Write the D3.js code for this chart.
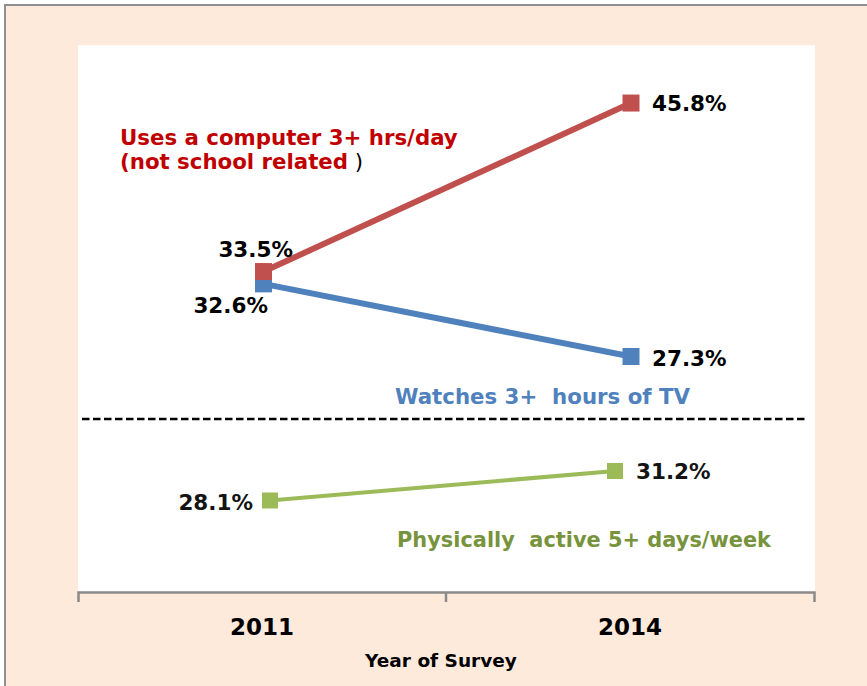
<!DOCTYPE html>
<html>
<head>
<meta charset="utf-8">
<script src="https://cdn.jsdelivr.net/npm/d3@7"></script>
<style>
    html, body { margin: 0; padding: 0; background: #ffffff; }
    svg { display: block; }
    text { font-family: "DejaVu Sans", Verdana, sans-serif; font-weight: bold; }
</style>
</head>
<body>
<div class="chart"></div>
<script>
// values
const years = ["2011", "2014"];
const computerUse = [33.5, 45.8];
const tvWatching = [32.6, 27.3];
const physicallyActive = [28.1, 31.2];

const computerLabel = ["Uses a computer 3+ hrs/day", "(not school related"];
const tvLabel = "Watches 3+  hours of TV";
const activeLabel = "Physically  active 5+ days/week";
const axisTitle = "Year of Survey";

const width = 867, height = 686;
const plot = {left: 78, right: 815, top: 45, bottom: 592};

var svg = d3.select(".chart").append("svg")
        .attr("width", width)
        .attr("height", height);

// peach frame + white plot area
svg.append("rect")
        .attr("x", 5).attr("y", 5)
        .attr("width", 900).attr("height", 720)
        .style("fill", "#fdeadb")
        .style("stroke", "#8f8f8f")
        .style("stroke-width", 2);
svg.append("rect")
        .attr("x", plot.left).attr("y", plot.top)
        .attr("width", plot.right - plot.left)
        .attr("height", plot.bottom - plot.top)
        .style("fill", "#ffffff");

// scales: upper panel (computer / TV), lower panel (physical activity)
var xBand = d3.scaleBand().domain(years).range([plot.left, plot.right - 1]);
var xTop = d3.scalePoint().domain(years).range([263.5, 631]);
var yTop = d3.scaleLinear().domain([20, 50]).range([456.5, 45.5]);
var xLow = d3.scalePoint().domain(years).range([270, 615]);
var yLow = d3.scaleLinear().domain([25, 35]).range([530, 434.8]);

// divider between the two panels
svg.append("line")
        .attr("x1", 82).attr("x2", 805)
        .attr("y1", 419).attr("y2", 419)
        .style("stroke", "#000")
        .style("stroke-width", 2.6)
        .style("stroke-dasharray", "7.5,3.5");

function drawSeries(values, x, y, color, lineW, size) {
    var pts = values.map((v, i) => [x(years[i]), y(v)]);
    svg.append("path")
            .attr("d", d3.line()(pts))
            .style("fill", "none")
            .style("stroke", color)
            .style("stroke-width", lineW);
    svg.selectAll(null)
            .data(pts)
            .enter().append("rect")
            .attr("x", (d) => d[0] - size / 2)
            .attr("y", (d) => d[1] - size / 2)
            .attr("width", size)
            .attr("height", size)
            .style("fill", color);
    return pts;
}

var tvPts = drawSeries(tvWatching, xTop, yTop, "#4f81bd", 6, 17);
var compPts = drawSeries(computerUse, xTop, yTop, "#c0504d", 6, 17);
var actPts = drawSeries(physicallyActive, xLow, yLow, "#9bbb59", 4, 16);

function valueLabel(v, p, dx, dy, anchor, color) {
    svg.append("text")
            .attr("x", p[0] + dx)
            .attr("y", p[1] + dy)
            .attr("text-anchor", anchor)
            .style("font-size", "21.5px")
            .style("fill", color || "#000")
            .text(v.toFixed(1) + "%");
}

valueLabel(computerUse[0], compPts[0], 29.5, -14.5, "end");
valueLabel(computerUse[1], compPts[1], 21, 8, "start");
valueLabel(tvWatching[0], tvPts[0], 4.5, 29, "end");
valueLabel(tvWatching[1], tvPts[1], 21, 10, "start");
valueLabel(physicallyActive[0], actPts[0], -17, 9.5, "end", "#141414");
valueLabel(physicallyActive[1], actPts[1], 21, 8, "start", "#141414");

// series names
svg.append("text")
        .attr("x", 120).attr("y", 145)
        .style("font-size", "21.3px")
        .style("fill", "#c00000")
        .text(computerLabel[0]);
var l2 = svg.append("text")
        .attr("x", 120).attr("y", 169)
        .style("font-size", "21.3px")
        .style("fill", "#c00000")
        .text(computerLabel[1]);
l2.append("tspan")
        .style("fill", "#000")
        .style("font-weight", "normal")
        .style("white-space", "pre")
        .text(" )");

svg.append("text")
        .attr("x", 395).attr("y", 404)
        .style("font-size", "21.3px")
        .style("white-space", "pre")
        .style("fill", "#4f81bd")
        .text(tvLabel);

svg.append("text")
        .attr("x", 397).attr("y", 547)
        .style("font-size", "20.9px")
        .style("white-space", "pre")
        .style("fill", "#77933c")
        .text(activeLabel);

// x axis with ticks on the category boundaries
var axis = svg.append("g")
        .attr("transform", "translate(0," + plot.bottom + ")")
        .call(d3.axisBottom(xBand).tickSize(0).tickSizeOuter(10).tickFormat(""));
axis.select(".domain")
        .style("stroke", "#8a8a8a")
        .style("stroke-width", 2.5);
axis.selectAll(".mid")
        .data(years.slice(1))
        .enter().append("line")
        .attr("class", "mid")
        .attr("x1", (d) => xBand(d)).attr("x2", (d) => xBand(d))
        .attr("y1", 0).attr("y2", 10)
        .style("stroke", "#8a8a8a")
        .style("stroke-width", 2.5);
axis.selectAll(".yr")
        .data(years)
        .enter().append("text")
        .attr("class", "yr")
        .attr("x", (d) => xBand(d) + xBand.bandwidth() / 2)
        .attr("y", 43)
        .attr("text-anchor", "middle")
        .style("font-size", "23px")
        .style("fill", "#000")
        .text((d) => d);

svg.append("text")
        .attr("x", 441).attr("y", 667)
        .attr("text-anchor", "middle")
        .style("font-size", "18.5px")
        .style("fill", "#000")
        .text(axisTitle);
</script>
</body>
</html>
